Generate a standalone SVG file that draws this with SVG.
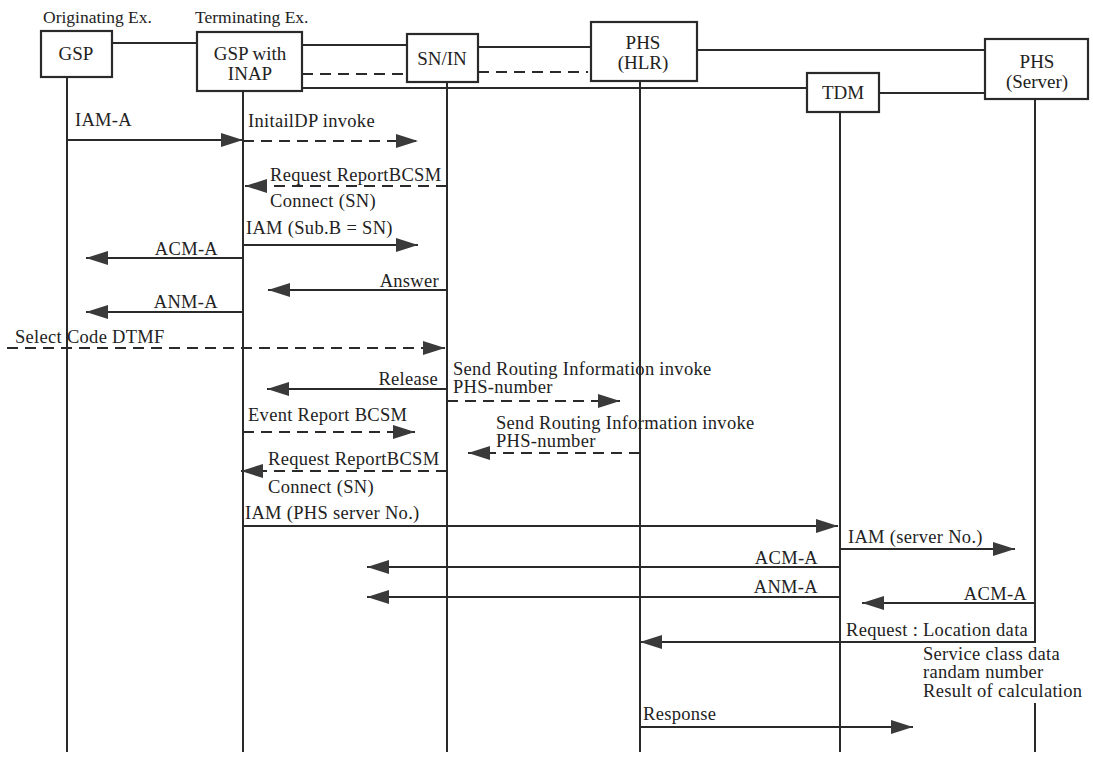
<svg xmlns="http://www.w3.org/2000/svg" width="1093" height="760" viewBox="0 0 1093 760">
<defs>
<style>
text{font-family:"Liberation Serif","Times New Roman",serif;fill:#222;}
.hdr{font-size:17.5px;}
.box{fill:#fff;stroke:#2a2a2a;stroke-width:2.2;}
.bl{font-size:19px;text-anchor:middle;}
.m{font-size:18.5px;letter-spacing:0.3px;}
.r{text-anchor:end;}
.life{stroke:#2a2a2a;stroke-width:2;fill:none;}
.link{stroke:#2a2a2a;stroke-width:2;fill:none;}
.dl{stroke:#2a2a2a;stroke-width:2;fill:none;stroke-dasharray:11 7;}
.msg{stroke:#2a2a2a;stroke-width:2;fill:none;marker-end:url(#ah);}
.dmsg{stroke:#2a2a2a;stroke-width:2;fill:none;stroke-dasharray:11 7;marker-end:url(#ah);}
</style>
<marker id="ah" markerUnits="userSpaceOnUse" markerWidth="22" markerHeight="14" refX="22" refY="7" orient="auto">
<path d="M0,0 L22,7 L0,14 z" fill="#3a3a3a"/>
</marker>
</defs>
<rect width="1093" height="760" fill="#fff"/>

<text class="hdr" x="43" y="23">Originating Ex.</text>
<text class="hdr" x="195" y="23">Terminating Ex.</text>

<g id="lifelines">
<line class="life" x1="67" y1="77" x2="67" y2="752"/>
<line class="life" x1="243" y1="91" x2="243" y2="752"/>
<line class="life" x1="447" y1="82" x2="447" y2="752"/>
<line class="life" x1="640" y1="81" x2="640" y2="752"/>
<line class="life" x1="840" y1="112" x2="840" y2="752"/>
<line class="life" x1="1035" y1="99" x2="1035" y2="643"/>
<line class="life" x1="1035" y1="703" x2="1035" y2="752"/>
</g>

<g id="links">
<line class="link" x1="112" y1="43" x2="197" y2="43"/>
<line class="link" x1="302" y1="45" x2="407" y2="45"/>
<line class="link" x1="478" y1="47" x2="591" y2="47"/>
<line class="link" x1="697" y1="50" x2="985" y2="50"/>
<line class="dl" x1="302" y1="74" x2="407" y2="74"/>
<line class="dl" x1="478" y1="72" x2="588" y2="72"/>
<line class="link" x1="302" y1="88" x2="807" y2="88"/>
<line class="link" x1="879" y1="93" x2="985" y2="93"/>
</g>

<g id="gsp">
<rect class="box" x="41" y="31" width="71" height="46"/>
<text class="bl" x="76" y="60">GSP</text>
</g>
<g id="gsp-inap">
<rect class="box" x="197" y="32" width="105" height="59"/>
<text class="bl" x="250" y="60">GSP with</text>
<text class="bl" x="250" y="80">INAP</text>
</g>
<g id="sn-in">
<rect class="box" x="407" y="34" width="71" height="48"/>
<text class="bl" x="442" y="65">SN/IN</text>
</g>
<g id="phs-hlr">
<rect class="box" x="591" y="22" width="106" height="59"/>
<text class="bl" x="643" y="49">PHS</text>
<text class="bl" x="643" y="69">(HLR)</text>
</g>
<g id="tdm">
<rect class="box" x="807" y="73" width="72" height="39"/>
<text class="bl" x="843" y="99">TDM</text>
</g>
<g id="phs-server">
<rect class="box" x="985" y="39" width="103" height="60"/>
<text class="bl" x="1037" y="68">PHS</text>
<text class="bl" x="1037" y="88">(Server)</text>
</g>

<g id="messages">
<line class="msg" x1="67" y1="140" x2="243" y2="140"/>
<line class="dmsg" x1="243" y1="141" x2="418" y2="141"/>
<line class="dmsg" x1="447" y1="186" x2="245" y2="186"/>
<line class="msg" x1="243" y1="245" x2="418" y2="245"/>
<line class="msg" x1="243" y1="258" x2="86" y2="258"/>
<line class="msg" x1="447" y1="290" x2="268" y2="290"/>
<line class="msg" x1="243" y1="312" x2="86" y2="312"/>
<line class="dmsg" x1="7" y1="348" x2="445" y2="348"/>
<line class="msg" x1="447" y1="389" x2="267" y2="389"/>
<line class="dmsg" x1="447" y1="401" x2="620" y2="401"/>
<line class="dmsg" x1="243" y1="432" x2="415" y2="432"/>
<line class="dmsg" x1="640" y1="453" x2="468" y2="453"/>
<line class="dmsg" x1="447" y1="471" x2="241" y2="471"/>
<line class="msg" x1="243" y1="526" x2="838" y2="526"/>
<line class="msg" x1="840" y1="549" x2="1015" y2="549"/>
<line class="msg" x1="840" y1="567" x2="367" y2="567"/>
<line class="msg" x1="840" y1="597" x2="367" y2="597"/>
<line class="msg" x1="1035" y1="603" x2="862" y2="603"/>
<line class="msg" x1="1035" y1="642" x2="640" y2="642"/>
<line class="msg" x1="640" y1="727" x2="913" y2="727"/>
</g>

<g id="labels">
<text class="m" x="75" y="126">IAM-A</text>
<text class="m" x="248" y="127">InitailDP invoke</text>
<text class="m" x="270" y="181">Request ReportBCSM</text>
<text class="m" x="270" y="207">Connect (SN)</text>
<text class="m" x="246" y="234">IAM (Sub.B = SN)</text>
<text class="m r" x="218" y="255">ACM-A</text>
<text class="m r" x="439" y="287">Answer</text>
<text class="m r" x="218" y="308">ANM-A</text>
<text class="m" x="15" y="343">Select Code DTMF</text>
<text class="m r" x="438" y="385">Release</text>
<text class="m" x="453" y="375">Send Routing Information invoke</text>
<text class="m" x="453" y="393">PHS-number</text>
<text class="m" x="248" y="421">Event Report BCSM</text>
<text class="m" x="496" y="429">Send Routing Information invoke</text>
<text class="m" x="496" y="447">PHS-number</text>
<text class="m" x="268" y="465">Request ReportBCSM</text>
<text class="m" x="268" y="493">Connect (SN)</text>
<text class="m" x="245" y="519">IAM (PHS server No.)</text>
<text class="m" x="848" y="543">IAM (server No.)</text>
<text class="m r" x="818" y="564">ACM-A</text>
<text class="m r" x="818" y="593">ANM-A</text>
<text class="m r" x="1027" y="600">ACM-A</text>
<text class="m" x="846" y="636">Request : Location data</text>
<text class="m" x="923" y="660">Service class data</text>
<text class="m" x="923" y="678">randam number</text>
<text class="m" x="923" y="697">Result of calculation</text>
<text class="m" x="643" y="720">Response</text>
</g>
</svg>
